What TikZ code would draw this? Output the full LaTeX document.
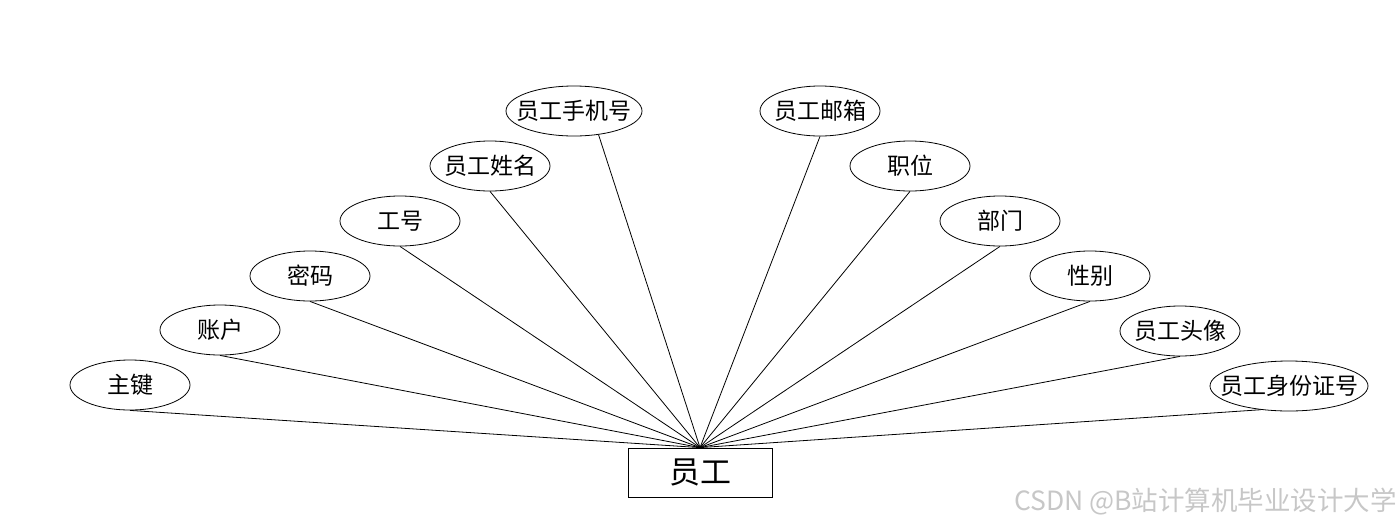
\documentclass[tikz,border=0pt]{standalone}
\usepackage{fontspec}
\setmainfont{Noto Sans CJK SC}
\newfontfamily\cjk{Noto Sans CJK SC}
\usetikzlibrary{shapes.geometric}
\newcommand{\lbl}[1]{\makebox[0pt]{#1}}
\tikzset{
  attr/.style={draw, ellipse, minimum width=120pt, minimum height=50pt, inner sep=0pt, line width=0.8pt, font=\cjk\fontsize{23}{23}\selectfont},
  ent/.style={draw, rectangle, minimum width=144pt, minimum height=49pt, inner sep=0pt, line width=0.8pt, font=\cjk\fontsize{31}{31}\selectfont},
  link/.style={line width=0.8pt}
}
\begin{document}
\begin{tikzpicture}[x=1pt,y=-1pt]
\useasboundingbox (0,0) rectangle (1400,528);
\node[ent] (e) at (700,472.5) {员工};
\node[attr] (a1) at (130,385) {\lbl{主键}};
\node[attr] (a2) at (220,330) {\lbl{账户}};
\node[attr] (a3) at (310,276) {\lbl{密码}};
\node[attr] (a4) at (400,221) {\lbl{工号}};
\node[attr] (a5) at (490,166) {\lbl{员工姓名}};
\node[attr, minimum width=136pt] (a6) at (574,111) {\lbl{员工手机号}};
\node[attr] (a7) at (820,111) {\lbl{员工邮箱}};
\node[attr] (a8) at (910,166) {\lbl{职位}};
\node[attr] (a9) at (1000,221) {\lbl{部门}};
\node[attr] (a10) at (1090,276) {\lbl{性别}};
\node[attr] (a11) at (1180,331) {\lbl{员工头像}};
\node[attr, minimum width=158pt] (a12) at (1289,386) {\lbl{员工身份证号}};
\foreach \n in {a1,a2,a3,a4,a5,a7,a8,a9,a10,a11}
  \draw[link] (\n.south) -- (e.north);
\draw[link] (a6.-44) -- (e.north);
\draw[link] (a12.-140) -- (e.north);
\node[anchor=east, text=black!22, font=\cjk\fontsize{26.5}{26.5}\selectfont, inner sep=0pt] (wm) at (1397,502) {CSDN @B站计算机毕业设计大学};
\end{tikzpicture}
\end{document}
